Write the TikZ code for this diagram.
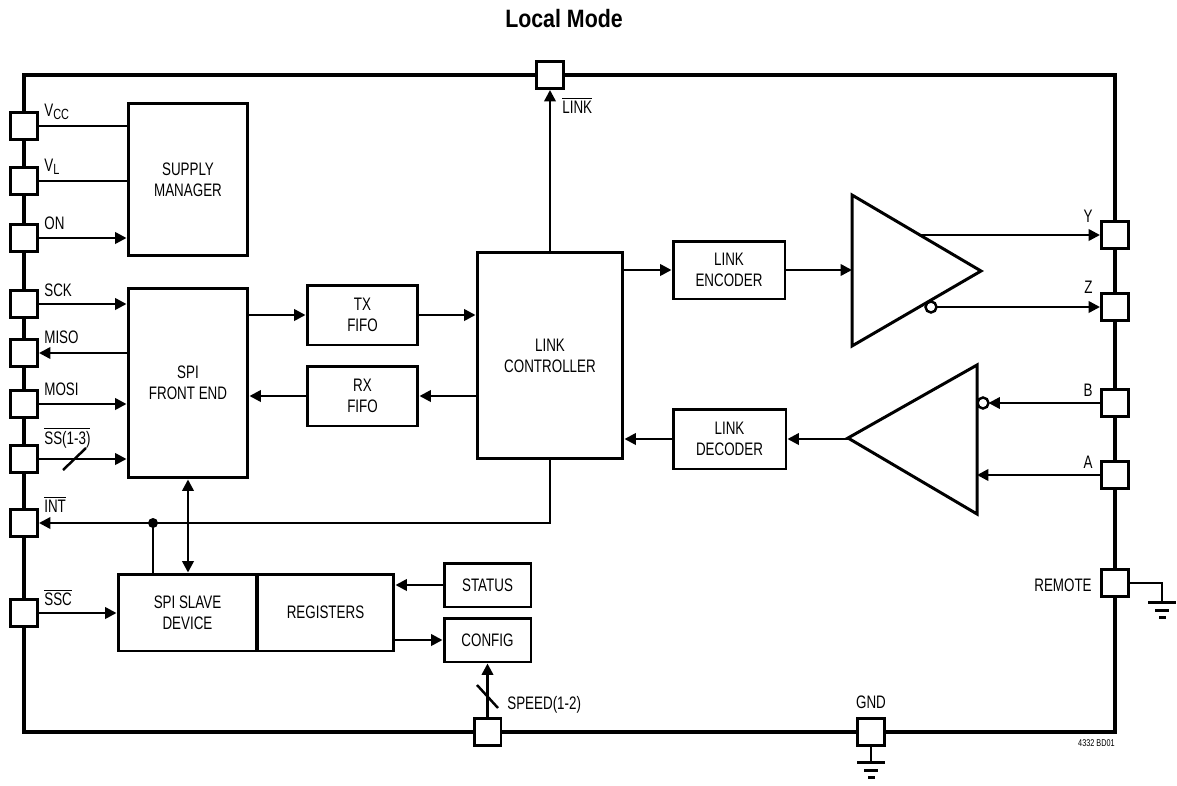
\documentclass[tikz,border=0pt]{standalone}
\usepackage{fontspec}
\setmainfont{Liberation Sans}[FakeStretch=0.74]
\newfontfamily\titlefont{Liberation Sans}[FakeStretch=0.85]
\usetikzlibrary{arrows.meta}
\newcommand{\barsig}[1]{$\overline{\mbox{#1}}$}
\newcommand{\subsig}[1]{\raisebox{-2.2pt}{\fontsize{8.4}{9}\selectfont #1}}
\tikzset{
  blk/.style={draw,line width=1.7pt,align=center,inner sep=0pt,font=\fontsize{10.3}{12}\selectfont},
  pad/.style={draw,line width=1.7pt,fill=white,minimum size=0.54cm,inner sep=0pt},
  wire/.style={line width=1.4pt},
  lbl/.style={inner sep=0pt,font=\fontsize{10.3}{12}\selectfont},
  >={Triangle[length=6.5pt,width=6.5pt]}
}

\begin{document}
\begin{tikzpicture}[x=0.02cm,y=-0.02cm]
\useasboundingbox (0,0) rectangle (1177,785);

% Title
\node[anchor=base,inner sep=0pt,font=\titlefont\bfseries\fontsize{14.3}{16}\selectfont] (title) at (564,27) {Local Mode};

% Package outline
\draw[line width=2.8pt] (24,75) rectangle (1115,732);

% Blocks
\node[blk,minimum width=2.4cm,minimum height=3.06cm] (sup) at (188,179.5) {SUPPLY\\MANAGER};
\node[blk,minimum width=2.4cm,minimum height=3.8cm] (spi) at (188,383) {SPI\\FRONT END};
\node[blk,minimum width=2.22cm,minimum height=1.2cm] (tx) at (362.5,315) {TX\\FIFO};
\node[blk,minimum width=2.22cm,minimum height=1.2cm] (rx) at (362.5,396) {RX\\FIFO};
\node[blk,minimum width=2.92cm,minimum height=4.14cm] (lc) at (550,355.5) {LINK\\CONTROLLER};
\node[blk,minimum width=2.24cm,minimum height=1.16cm] (enc) at (729,270) {LINK\\ENCODER};
\node[blk,minimum width=2.26cm,minimum height=1.2cm] (dec) at (729.5,439) {LINK\\DECODER};
\node[blk,minimum width=2.78cm,minimum height=1.54cm] (slv) at (187.5,612.5) {SPI SLAVE\\DEVICE};
\node[blk,minimum width=2.74cm,minimum height=1.54cm] (reg) at (325.5,612.5) {REGISTERS};
\node[blk,minimum width=1.74cm,minimum height=0.88cm] (sts) at (487.5,585) {STATUS};
\node[blk,minimum width=1.74cm,minimum height=0.88cm] (cfg) at (487.5,640) {CONFIG};

% Driver and receiver
\coordinate (drvin) at (852,270);
\coordinate (drvy) at (918,235);
\coordinate (drvz) at (931,307);
\coordinate (rcvout) at (848,439);
\coordinate (rcvb) at (983,403);
\coordinate (rcva) at (977,475);
\draw[line width=1.7pt,line join=miter] (852,195) -- (981,271) -- (852,346) -- cycle;
\draw[line width=1.7pt,line join=miter] (977,365) -- (848,438) -- (977,514) -- cycle;

% Pins
\node[pad] (p-vcc) at (24,126) {};
\node[pad] (p-vl) at (24,181) {};
\node[pad] (p-on) at (24,238) {};
\node[pad] (p-sck) at (24,304) {};
\node[pad] (p-miso) at (24,353) {};
\node[pad] (p-mosi) at (24,404) {};
\node[pad] (p-ss) at (24,459) {};
\node[pad] (p-int) at (24,523) {};
\node[pad] (p-ssc) at (24,613) {};
\node[pad] (p-link) at (550,75) {};
\node[pad] (p-y) at (1115,235) {};
\node[pad] (p-z) at (1115,307) {};
\node[pad] (p-b) at (1115,403) {};
\node[pad] (p-a) at (1115,475) {};
\node[pad] (p-rem) at (1115,583) {};
\node[pad] (p-spd) at (487.5,732) {};
\node[pad] (p-gnd) at (871,732) {};

% Pin labels
\node[lbl,anchor=base west] (l-vcc) at (44,116) {V\subsig{CC}};
\node[lbl,anchor=base west] (l-vl) at (44,171) {V\subsig{L}};
\node[lbl,anchor=base west] (l-on) at (44,229) {ON};
\node[lbl,anchor=base west] (l-sck) at (44,296) {SCK};
\node[lbl,anchor=base west] (l-miso) at (44,343) {MISO};
\node[lbl,anchor=base west] (l-mosi) at (44,395) {MOSI};
\node[lbl,anchor=base west] (l-ss) at (44,444) {\barsig{SS(1-3)}};
\node[lbl,anchor=base west] (l-int) at (44,512) {\barsig{INT}};
\node[lbl,anchor=base west] (l-ssc) at (44,605) {\barsig{SSC}};
\node[lbl,anchor=base west] (l-link) at (562,113) {\barsig{LINK}};
\node[lbl,anchor=base east] (l-y) at (1093,222) {Y};
\node[lbl,anchor=base east] (l-z) at (1093,293) {Z};
\node[lbl,anchor=base east] (l-b) at (1093,396) {B};
\node[lbl,anchor=base east] (l-a) at (1093,468) {A};
\node[lbl,anchor=base east] (l-rem) at (1092,591) {REMOTE};
\node[lbl,anchor=base west] (l-spd) at (507,709) {SPEED(1-2)};
\node[lbl,anchor=base] (l-gnd) at (871,708) {GND};
\node[inner sep=0pt,anchor=base east,font=\fontsize{5.6}{6}\selectfont] (fig) at (1115,746) {4332 BD01};

% Supply and SPI pins
\draw[wire] (p-vcc.east) -- (p-vcc -| sup.west);
\draw[wire] (p-vl.east) -- (p-vl -| sup.west);
\draw[wire,->] (p-on.east) -- (p-on -| sup.west);
\draw[wire,->] (p-sck.east) -- (p-sck -| spi.west);
\draw[wire,->] (p-miso -| spi.west) -- (p-miso.east);
\draw[wire,->] (p-mosi.east) -- (p-mosi -| spi.west);
\draw[wire,->] (p-ss.east) -- (p-ss -| spi.west);
\draw[wire] (63,470) -- (86,448);

% FIFOs
\draw[wire,->] (spi.east |- tx.west) -- (tx.west);
\draw[wire,->] (tx.east) -- (tx.east -| lc.west);
\draw[wire,->] (rx.east -| lc.west) -- (rx.east);
\draw[wire,->] (rx.west) -- (rx.west -| spi.east);

% Interrupt and slave
\coordinate (jn) at (153,523);
\draw[wire,->] (lc.south) |- (p-int.east);
\fill (jn) circle[radius=0.1cm];
\draw[wire] (jn) -- (jn |- slv.north);
\draw[wire,<->] (spi.south) -- (spi.south |- slv.north);
\draw[wire,->] (p-ssc.east) -- (p-ssc -| slv.west);
\draw[wire,->] (sts.west) -- (sts.west -| reg.east);
\draw[wire,->] (reg.east |- cfg.west) -- (cfg.west);
\draw[wire,->] (p-spd.north) -- (cfg.south);
\draw[wire] (477,685) -- (498,708);

% Link side
\draw[wire,->] (lc.north) -- (p-link.south);
\draw[wire,->] (lc.east |- enc.west) -- (enc.west);
\draw[wire,->] (enc.east) -- (drvin);
\draw[wire,->] (drvy) -- (p-y.west);
\draw[line width=1.4pt,fill=white] (drvz) circle[radius=0.11cm];
\draw[wire,->] ([xshift=0.11cm]drvz) -- (p-z.west);
\draw[line width=1.4pt,fill=white] (rcvb) circle[radius=0.11cm];
\draw[wire,->] (p-b.west) -- ([xshift=0.11cm]rcvb);
\draw[wire,->] (p-a.west) -- (rcva);
\draw[wire,->] (rcvout) -- (dec.east);
\draw[wire,->] (dec.west) -- (dec.west -| lc.east);

% Grounds
\draw[wire] (p-rem.east) -| (1162,602);
\draw[line width=1.7pt] (1148,602) -- (1176,602) (1155,610) -- (1169,610) (1159,617) -- (1166,617);
\draw[wire] (p-gnd.south) -- (871,762);
\draw[line width=1.7pt] (857,762) -- (885,762) (864,770) -- (878,770) (868,777) -- (875,777);
\end{tikzpicture}
\end{document}
